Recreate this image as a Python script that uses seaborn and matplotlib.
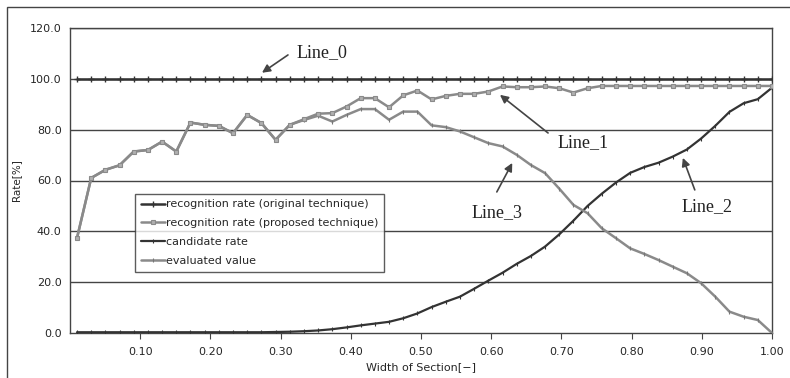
import numpy as np
import pandas as pd
import matplotlib
matplotlib.use("Agg")
import matplotlib.pyplot as plt
import matplotlib.patches as mpatches
import seaborn as sns

# ---- data ----
width = np.linspace(0.01, 1.00, 50)
line0_original = [100.0] * 50
line1_proposed = [37.4, 61.0, 64.2, 66.0, 71.4, 72.0, 75.3, 71.4, 82.8, 81.9,
                  81.5, 78.6, 85.8, 82.6, 76.0, 81.9, 84.1, 86.3, 86.5, 89.1,
                  92.4, 92.4, 88.8, 93.5, 95.4, 91.9, 93.3, 94.1, 94.1, 95.0,
                  97.0, 96.7, 96.7, 97.0, 96.3, 94.6, 96.3, 97.2, 97.2, 97.2,
                  97.2, 97.2, 97.2, 97.2, 97.2, 97.2, 97.2, 97.2, 97.2, 97.2]
line2_candidate = [0.3, 0.3, 0.3, 0.3, 0.3, 0.3, 0.3, 0.3, 0.3, 0.3,
                   0.3, 0.3, 0.3, 0.3, 0.4, 0.5, 0.7, 1.0, 1.5, 2.2,
                   3.0, 3.7, 4.4, 5.8, 7.7, 10.2, 12.3, 14.3, 17.4, 20.6,
                   23.7, 27.2, 30.3, 34.0, 38.8, 44.2, 50.0, 54.8, 59.2, 63.0,
                   65.3, 67.0, 69.4, 72.2, 76.5, 81.5, 87.0, 90.4, 92.0, 96.5]
line3_evaluated = [37.4, 61.0, 64.2, 66.0, 71.4, 72.0, 75.3, 71.4, 82.8, 81.9,
                   81.5, 78.6, 85.8, 82.6, 76.0, 81.9, 83.8, 85.5, 83.2, 85.8,
                   88.1, 88.1, 83.9, 87.1, 87.1, 81.7, 81.0, 79.3, 77.0, 74.7,
                   73.4, 70.1, 66.1, 62.9, 56.8, 50.4, 47.1, 41.2, 37.3, 33.3,
                   31.1, 28.7, 26.1, 23.5, 19.6, 14.3, 8.4, 6.4, 5.1, 0.0]
labels = ["recognition rate (original technique)",
          "recognition rate (proposed technique)",
          "candidate rate",
          "evaluated value"]
y_ticks = [0, 20, 40, 60, 80, 100, 120]
x_ticks = [0.1, 0.2, 0.3, 0.4, 0.5, 0.6, 0.7, 0.8, 0.9, 1.0]

sns.set_style("white")
plt.rcParams['font.family'] = ['DejaVu Sans']

fig = plt.figure(figsize=(7.9, 3.78), dpi=100)
ax = fig.add_axes([70 / 790, 1 - 333 / 378, 702 / 790, 305 / 378])

DARK = "#333333"
GREY = "#8a8a8a"

# gridlines
for yv in y_ticks[1:]:
    ax.axhline(yv, color="#444444", lw=1.0, zorder=0)

df = pd.DataFrame({"w": width, "l0": line0_original, "l1": line1_proposed,
                   "l2": line2_candidate, "l3": line3_evaluated})

sns.lineplot(data=df, x="w", y="l0", ax=ax, color=DARK, lw=1.8, marker="+",
             markersize=5, markeredgewidth=1.0, markeredgecolor=DARK,
             label=labels[0], zorder=5)
sns.lineplot(data=df, x="w", y="l1", ax=ax, color=GREY, lw=1.8, marker="s",
             markersize=3, markeredgewidth=0.8, markerfacecolor="#b0b0b0",
             markeredgecolor=GREY, label=labels[1], zorder=4)
sns.lineplot(data=df, x="w", y="l2", ax=ax, color=DARK, lw=1.6, marker="|",
             markersize=3, markeredgewidth=0.8, markeredgecolor=DARK,
             label=labels[2], zorder=3)
sns.lineplot(data=df, x="w", y="l3", ax=ax, color=GREY, lw=1.8, marker="|",
             markersize=3, markeredgewidth=0.8, markeredgecolor="#777777",
             label=labels[3], zorder=3)

ax.set_xlim(0, 1.0)
ax.set_ylim(0, 120)
ax.set_yticks(y_ticks)
ax.set_yticklabels([f"{v:.1f}" for v in y_ticks], fontsize=8)
ax.set_xticks(x_ticks)
ax.set_xticklabels([f"{v:.2f}" for v in x_ticks], fontsize=8)
ax.tick_params(axis="x", direction="out", length=4, width=0.8, color="#444444", pad=6, bottom=True)
ax.tick_params(axis="y", length=0, pad=6)
ax.set_xlabel("Width of Section[\u2212]", fontsize=8, labelpad=4)
ax.set_ylabel("Rate[%]", fontsize=7.5, labelpad=6)

for s in ax.spines.values():
    s.set_color("#444444")
    s.set_linewidth(1.0)

leg = ax.legend(loc="upper left", bbox_to_anchor=(0.093, 0.456), borderaxespad=0,
                fontsize=8, frameon=True, fancybox=False, handlelength=2.2,
                handletextpad=0.1, labelspacing=0.8, borderpad=0.5)
leg.get_frame().set_edgecolor("#333333")
leg.get_frame().set_linewidth(1.0)

# annotations
serif = dict(family=["Liberation Serif", "DejaVu Serif"], fontsize=13, color="#222222")
arrow = dict(arrowstyle="-|>", color="#444444", lw=1.2, mutation_scale=12, shrinkA=0, shrinkB=0)
ax.text(0.323, 110.4, "Line_0", ha="left", va="center", **serif)
ax.annotate("", xy=(0.2735, 102.4), xytext=(0.3105, 109.4), arrowprops=arrow)
ax.text(0.731, 74.8, "Line_1", ha="center", va="center", **serif)
ax.annotate("", xy=(0.6125, 93.7), xytext=(0.681, 78.7), arrowprops=arrow)
ax.text(0.608, 47.2, "Line_3", ha="center", va="center", **serif)
ax.annotate("", xy=(0.630, 66.9), xytext=(0.608, 55.5), arrowprops=arrow)
ax.text(0.907, 49.6, "Line_2", ha="center", va="center", **serif)
ax.annotate("", xy=(0.873, 68.9), xytext=(0.890, 56.3), arrowprops=arrow)

# outer chart-area border
fig.patches.append(mpatches.Rectangle((7 / 790, -0.1), 1.2, 1.1 - 7 / 378,
                                      transform=fig.transFigure, fill=False,
                                      edgecolor="#444444", lw=1.0))

fig.savefig("out.png", dpi=100)
